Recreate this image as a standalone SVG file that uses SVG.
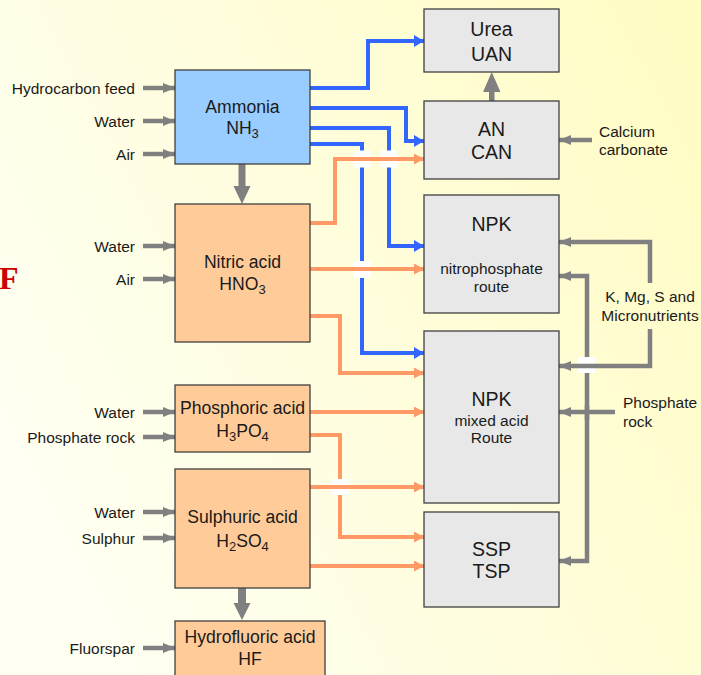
<svg xmlns="http://www.w3.org/2000/svg" width="701" height="675" viewBox="0 0 701 675">
<defs>
<linearGradient id="bg" x1="0" y1="0.6" x2="1" y2="0.1">
<stop offset="0" stop-color="#FFFFF2"/>
<stop offset="1" stop-color="#FFFCC4"/>
</linearGradient>
<marker id="mb" markerUnits="userSpaceOnUse" markerWidth="10" markerHeight="12" refX="10" refY="6" orient="auto"><path d="M0,0 L10,6 L0,12 z" fill="#3366FF"/></marker>
<marker id="mo" markerUnits="userSpaceOnUse" markerWidth="10" markerHeight="11" refX="10" refY="5.5" orient="auto"><path d="M0,0 L10,5.5 L0,11 z" fill="#FF9966"/></marker>
<marker id="mg" markerUnits="userSpaceOnUse" markerWidth="12" markerHeight="10" refX="12" refY="5" orient="auto"><path d="M0,0 L12,5 L0,10 z" fill="#808080"/></marker>
</defs>
<style>
.box{stroke:#404040;stroke-width:1.3}
.blue{fill:#99CCFF}.org{fill:#FFCC99}.gry{fill:#E8E8E8}
text{font-family:"Liberation Sans",Arial,sans-serif;fill:#1a1a1a}
.lb{font-size:15.5px}
.bl{font-size:17.6px;text-anchor:middle}
.br{font-size:19.5px;text-anchor:middle}
.sm{font-size:15.5px;text-anchor:middle}
.cb{fill:none;stroke:#3366FF;stroke-width:4;marker-end:url(#mb)}
.co{fill:none;stroke:#FF9966;stroke-width:4;marker-end:url(#mo)}
.cg{fill:none;stroke:#808080;stroke-width:4.5;marker-end:url(#mg)}
.gap{fill:#FFFFFF}
.thick{fill:#808080}
</style>
<rect width="701" height="675" fill="url(#bg)"/>
<text x="-1" y="289" style="font-family:'Liberation Serif','Times New Roman',serif;font-weight:bold;font-size:32px;fill:#CC0000">F</text>

<g id="connectors">
<path class="cb" d="M310,88 H368 V41 H424"/>
<path class="cb" d="M310,108 H406 V141 H424"/>
<path class="cb" d="M310,128 H389 V246 H424"/>
<path class="cb" d="M310,144 H362 V353 H424"/>
<path class="co" d="M310,435 H340 V537 H424"/>
<rect class="gap" x="353.5" y="150.5" width="17" height="17"/>
<rect class="gap" x="380.5" y="150.5" width="17" height="17"/>
<rect class="gap" x="353.5" y="261" width="17" height="17"/>
<rect class="gap" x="332" y="479" width="17" height="16"/>
<path class="co" d="M310,223 H335 V159 H424"/>
<path class="co" d="M310,269 H424"/>
<path class="co" d="M310,316 H340 V373 H424"/>
<path class="co" d="M310,412 H424"/>
<path class="co" d="M310,487 H424"/>
<path class="co" d="M310,566 H424"/>

<path class="cg" d="M143,88 H175"/>
<path class="cg" d="M143,121 H175"/>
<path class="cg" d="M143,154 H175"/>
<path class="cg" d="M143,246 H175"/>
<path class="cg" d="M143,279 H175"/>
<path class="cg" d="M143,412 H175"/>
<path class="cg" d="M143,437 H175"/>
<path class="cg" d="M143,512 H175"/>
<path class="cg" d="M143,538 H175"/>
<path class="cg" d="M143,648 H175"/>

<polygon class="thick" points="238.5,164 245.5,164 245.5,186 250.5,186 242,204 233.5,186 238.5,186"/>
<polygon class="thick" points="238,588 246,588 246,603 250.5,603 242,620 233.5,603 238,603"/>
<polygon class="thick" points="489,101 494.5,101 494.5,92 500.5,92 491.7,72 483,92 489,92"/>

<path class="cg" d="M592,140 H559"/>
<path class="cg" d="M650,283 V242 H559"/>
<path class="cg" d="M615,412 H559"/>
<path class="cg" d="M587,420 V276 H559"/>
<path class="cg" d="M587,405 V561 H559"/>
<rect class="gap" x="578" y="357" width="17" height="16"/>
<path class="cg" d="M650,329 V366 H559"/>
</g>

<g id="ammonia">
<rect class="box blue" x="175" y="70" width="135" height="94"/>
<text class="bl" x="242.5" y="112.7">Ammonia</text>
<text class="bl" x="242.5" y="134.3">NH<tspan dy="4" font-size="13">3</tspan></text>
</g>
<g id="nitric">
<rect class="box org" x="175" y="204" width="135" height="138"/>
<text class="bl" x="242.5" y="268.3">Nitric acid</text>
<text class="bl" x="242.5" y="290">HNO<tspan dy="4" font-size="13">3</tspan></text>
</g>
<g id="phosphoric">
<rect class="box org" x="175" y="385" width="135" height="67"/>
<text class="bl" x="242.5" y="414.3">Phosphoric acid</text>
<text class="bl" x="242.5" y="436.7">H<tspan dy="4" font-size="13">3</tspan><tspan dy="-4">PO</tspan><tspan dy="4" font-size="13">4</tspan></text>
</g>
<g id="sulphuric">
<rect class="box org" x="175" y="469" width="135" height="119"/>
<text class="bl" x="242.5" y="523.3">Sulphuric acid</text>
<text class="bl" x="242.5" y="546.7">H<tspan dy="4" font-size="13">2</tspan><tspan dy="-4">SO</tspan><tspan dy="4" font-size="13">4</tspan></text>
</g>
<g id="hydrofluoric">
<rect class="box org" x="175" y="621" width="150" height="60"/>
<text class="bl" x="250" y="643.3">Hydrofluoric acid</text>
<text class="bl" x="250" y="665">HF</text>
</g>
<g id="urea">
<rect class="box gry" x="424" y="9" width="135" height="63"/>
<text class="br" x="491.5" y="35.7">Urea</text>
<text class="br" x="491.5" y="60.7">UAN</text>
</g>
<g id="an">
<rect class="box gry" x="424" y="101" width="135" height="78"/>
<text class="br" x="491.5" y="135.7">AN</text>
<text class="br" x="491.5" y="159.3">CAN</text>
</g>
<g id="npk-nitro">
<rect class="box gry" x="424" y="195" width="135" height="118"/>
<text class="br" x="491.5" y="230.7">NPK</text>
<text class="sm" x="491.5" y="274.3">nitrophosphate</text>
<text class="sm" x="491.5" y="292.3">route</text>
</g>
<g id="npk-mixed">
<rect class="box gry" x="424" y="331" width="135" height="172"/>
<text class="br" x="491.5" y="406">NPK</text>
<text class="sm" x="491.5" y="425.7">mixed acid</text>
<text class="sm" x="491.5" y="443.3">Route</text>
</g>
<g id="ssp">
<rect class="box gry" x="424" y="512" width="135" height="95"/>
<text class="br" x="491.5" y="555.7">SSP</text>
<text class="br" x="491.5" y="578.3">TSP</text>
</g>

<g id="labels" class="lb" text-anchor="end">
<text class="lb" x="135" y="94">Hydrocarbon feed</text>
<text class="lb" x="135" y="126.5">Water</text>
<text class="lb" x="135" y="159.5">Air</text>
<text class="lb" x="135" y="251.5">Water</text>
<text class="lb" x="135" y="284.5">Air</text>
<text class="lb" x="135" y="417.5">Water</text>
<text class="lb" x="135" y="442.5">Phosphate rock</text>
<text class="lb" x="135" y="517.5">Water</text>
<text class="lb" x="135" y="543.5">Sulphur</text>
<text class="lb" x="135" y="653.5">Fluorspar</text>
</g>
<g id="right-labels" class="lb">
<text class="lb" x="599" y="136.7">Calcium</text>
<text class="lb" x="599" y="155">carbonate</text>
<text class="lb" x="650" y="302.3" text-anchor="middle">K, Mg, S and</text>
<text class="lb" x="650" y="320.7" text-anchor="middle">Micronutrients</text>
<text class="lb" x="623" y="408.3">Phosphate</text>
<text class="lb" x="623" y="426.7">rock</text>
</g>
</svg>
